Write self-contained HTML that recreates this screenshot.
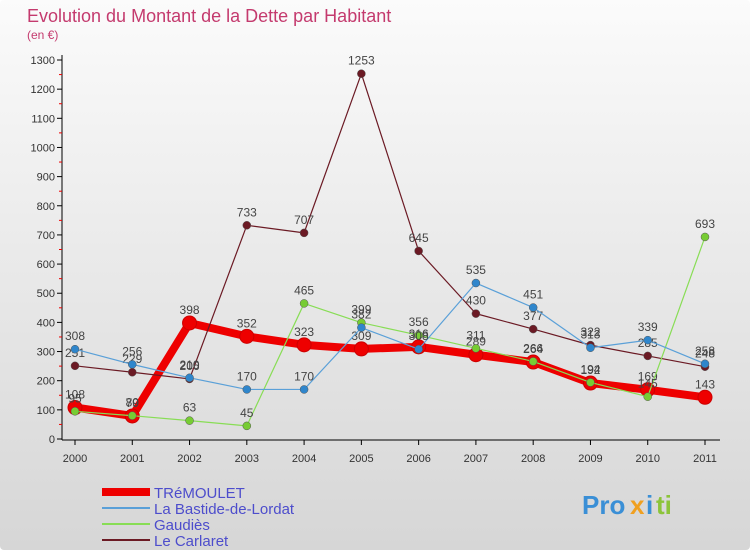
<!DOCTYPE html>
<html><head><meta charset="utf-8"><style>
body{margin:0;width:750px;height:550px;overflow:hidden;font-family:"Liberation Sans",sans-serif}
svg{display:block}
</style></head><body>
<svg id="chart" width="750" height="550" xmlns="http://www.w3.org/2000/svg">
<defs><linearGradient id="bg" x1="0" y1="0" x2="0" y2="1"><stop offset="0" stop-color="#fbfbfb"/><stop offset="1" stop-color="#d6d6d6"/></linearGradient></defs>
<rect width="750" height="550" fill="url(#bg)" rx="4"/>
<text x="27" y="22" font-size="18" fill="#c43a6e">Evolution du Montant de la Dette par Habitant</text>
<text x="27" y="39" font-size="12" fill="#c43a6e">(en €)</text>
<g id="axes"></g><g id="series"></g><g id="legend"></g>
<g font-size="26" font-weight="bold">
<text x="582" y="514" fill="#3a8fd6">Pro</text><text x="630" y="514" fill="#f0a020">x</text><text x="646" y="514" fill="#3a8fd6">i</text><text x="656" y="514" fill="#8cc43a">ti</text>
</g>
</svg>
<script>
const years=["2000","2001","2002","2003","2004","2005","2006","2007","2008","2009","2010","2011"];
const yTicks=[0,100,200,300,400,500,600,700,800,900,1000,1100,1200,1300];
const tremoulet=[108,79,398,352,323,309,316,289,264,192,169,143];
const bastide=[308,256,210,170,170,382,308,535,451,313,339,258];
const gaudies=[95,80,63,45,465,399,356,311,266,194,145,693];
const carlaret=[251,229,206,733,707,1253,645,430,377,322,285,248];
const NS="http://www.w3.org/2000/svg";
const x=i=>75+i*(630/11);
const y=v=>439-v*(379/1300);
function mk(t,a,p){const e=document.createElementNS(NS,t);for(const k in a)e.setAttribute(k,a[k]);p.appendChild(e);return e;}
const ax=document.getElementById('axes');
const yl=mk('line',{x1:62,y1:55,x2:62,y2:440,stroke:'#000'},ax);


const xl=mk('line',{x1:62,y1:440,x2:720,y2:440,stroke:'#000'},ax);


yTicks.forEach(v=>{
 mk('line',{x1:57,y1:y(v),x2:62,y2:y(v),stroke:'#000'},ax);
 if(v<1300)mk('line',{x1:59,y1:y(v+50),x2:62,y2:y(v+50),stroke:'#e00'},ax);
 const t=mk('text',{x:55,y:y(v)+4,'font-size':11,'text-anchor':'end',fill:'#333'},ax);t.textContent=v;
 
 
});
years.forEach((yr,i)=>{
 mk('line',{x1:x(i),y1:440,x2:x(i),y2:445,stroke:'#000'},ax);
 const t=mk('text',{x:x(i),y:462,'font-size':11,'text-anchor':'middle',fill:'#333'},ax);t.textContent=yr;
 
 
});
const sg=document.getElementById('series');
const defs=[
 {d:carlaret,c:'#6b1a24',w:1.2,r:4,n:'le-carlaret'},
 {d:gaudies,c:'#88dd55',w:1.2,r:4,n:'gaudies'},
 {d:bastide,c:'#5aa0d8',w:1.2,r:4,n:'la-bastide-de-lordat'},
 {d:tremoulet,c:'#ee0000',w:8,r:7,n:'tremoulet'}];
const fills={'le-carlaret':'#6b1a24','gaudies':'#77cc33','la-bastide-de-lordat':'#2f86cc','tremoulet':'#ee0000'};
[defs[3],defs[0],defs[1],defs[2]].forEach(s=>{
 const g=mk('g',{},sg);
 
 
 const pl=mk('polyline',{points:s.d.map((v,i)=>x(i)+','+y(v)).join(' '),fill:'none',stroke:s.c,'stroke-width':s.w,'stroke-linejoin':'round'},g);
 
 
 s.d.forEach((v,i)=>{
  const p=mk('circle',{cx:x(i),cy:y(v),r:s.r,fill:fills[s.n],stroke:s.n==='tremoulet'?'#cc0000':'#555','stroke-width':s.n==='tremoulet'?1:0.5},g);
  
  
  const t=mk('text',{x:x(i),y:y(v)-9,'font-size':12,'text-anchor':'middle',fill:'#444'},g);t.textContent=v;
  
  
 });
});
const lg=document.getElementById('legend');
const items=[['TRéMOULET','#ee0000',8],['La Bastide-de-Lordat','#5aa0d8',2],['Gaudiès','#88dd55',2],['Le Carlaret','#6b1a24',2]];
items.forEach((it,k)=>{
 const yy=492+k*16;
 const g=mk('g',{},lg);
 
 
 mk('line',{x1:102,y1:yy,x2:150,y2:yy,stroke:it[1],'stroke-width':it[2]},g);
 const t=mk('text',{x:154,y:yy+6,'font-size':15,fill:'#4d4dcc'},g);t.textContent=it[0];
});
</script>
</body></html>
